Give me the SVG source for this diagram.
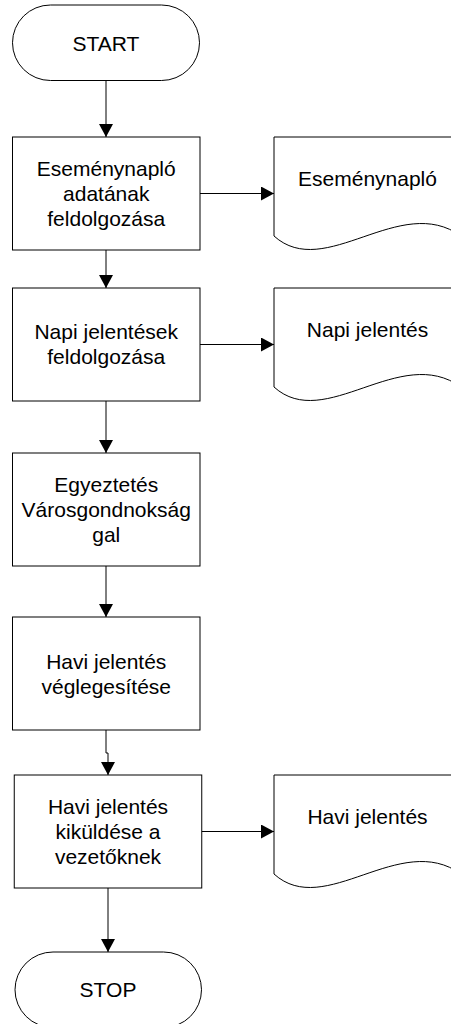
<svg xmlns="http://www.w3.org/2000/svg" width="451" height="1024" viewBox="0 0 451 1024">
  <style>
    .shape { fill: #ffffff; stroke: #000000; stroke-width: 1; }
    .edge { fill: none; stroke: #000000; stroke-width: 1; marker-end: url(#arrow); }
    text { font-family: "Liberation Sans", Arial, sans-serif; font-size: 21px; fill: #000000; text-anchor: middle; }
  </style>
  <defs>
    <marker id="arrow" markerUnits="userSpaceOnUse" markerWidth="14" markerHeight="14" refX="13" refY="7" orient="auto">
      <path d="M0,0 L13,7 L0,14 Z" fill="#000000"/>
    </marker>
  </defs>

  <!-- connectors -->
  <g id="connectors">
    <path class="edge" d="M106,80.5 V137"/>
    <path class="edge" d="M106,250 V288"/>
    <path class="edge" d="M106,401 V453"/>
    <path class="edge" d="M106,566 V617"/>
    <path class="edge" d="M106,730 V753 H108 V775"/>
    <path class="edge" d="M108,888 V952"/>
    <path class="edge" d="M200,193.5 H274"/>
    <path class="edge" d="M200,344.5 H274"/>
    <path class="edge" d="M201.5,831.5 H274"/>
  </g>

  <!-- start terminator -->
  <g id="start">
    <rect class="shape" x="12.5" y="5" width="187" height="75.5" rx="38" ry="37.75"/>
    <text x="106" y="50.5">START</text>
  </g>

  <!-- process steps -->
  <g id="step1">
    <rect class="shape" x="12.5" y="137" width="187.5" height="113"/>
    <text x="106.25" y="176">Eseménynapló</text>
    <text x="106.25" y="201">adatának</text>
    <text x="106.25" y="226">feldolgozása</text>
  </g>

  <g id="step2">
    <rect class="shape" x="12.5" y="288" width="187.5" height="113"/>
    <text x="106.25" y="339">Napi jelentések</text>
    <text x="106.25" y="364">feldolgozása</text>
  </g>

  <g id="step3">
    <rect class="shape" x="12.5" y="453" width="187.5" height="113"/>
    <text x="106.25" y="491.5">Egyeztetés</text>
    <text x="106.25" y="516.5">Városgondnokság</text>
    <text x="106.25" y="541.5">gal</text>
  </g>

  <g id="step4">
    <rect class="shape" x="12.5" y="617" width="187.5" height="113"/>
    <text x="106.25" y="668.5">Havi jelentés</text>
    <text x="106.25" y="693.5">véglegesítése</text>
  </g>

  <g id="step5">
    <rect class="shape" x="14.25" y="775" width="187.5" height="113"/>
    <text x="108" y="813.5">Havi jelentés</text>
    <text x="108" y="838.5">kiküldése a</text>
    <text x="108" y="863.5">vezetőknek</text>
  </g>

  <!-- documents -->
  <g id="doc1">
    <path class="shape" d="M274,137 H461 V236 C400,192 325,282 274,236 Z"/>
    <text x="367.5" y="185.5">Eseménynapló</text>
  </g>

  <g id="doc2">
    <path class="shape" d="M274,288 H461 V387 C400,343 325,433 274,387 Z"/>
    <text x="367.5" y="336.5">Napi jelentés</text>
  </g>

  <g id="doc3">
    <path class="shape" d="M274,775 H461 V874 C400,830 325,920 274,874 Z"/>
    <text x="367.5" y="823.5">Havi jelentés</text>
  </g>

  <!-- stop terminator -->
  <g id="stop">
    <rect class="shape" x="15" y="952" width="186.5" height="75.5" rx="38" ry="37.75"/>
    <text x="108" y="996.5">STOP</text>
  </g>
</svg>
